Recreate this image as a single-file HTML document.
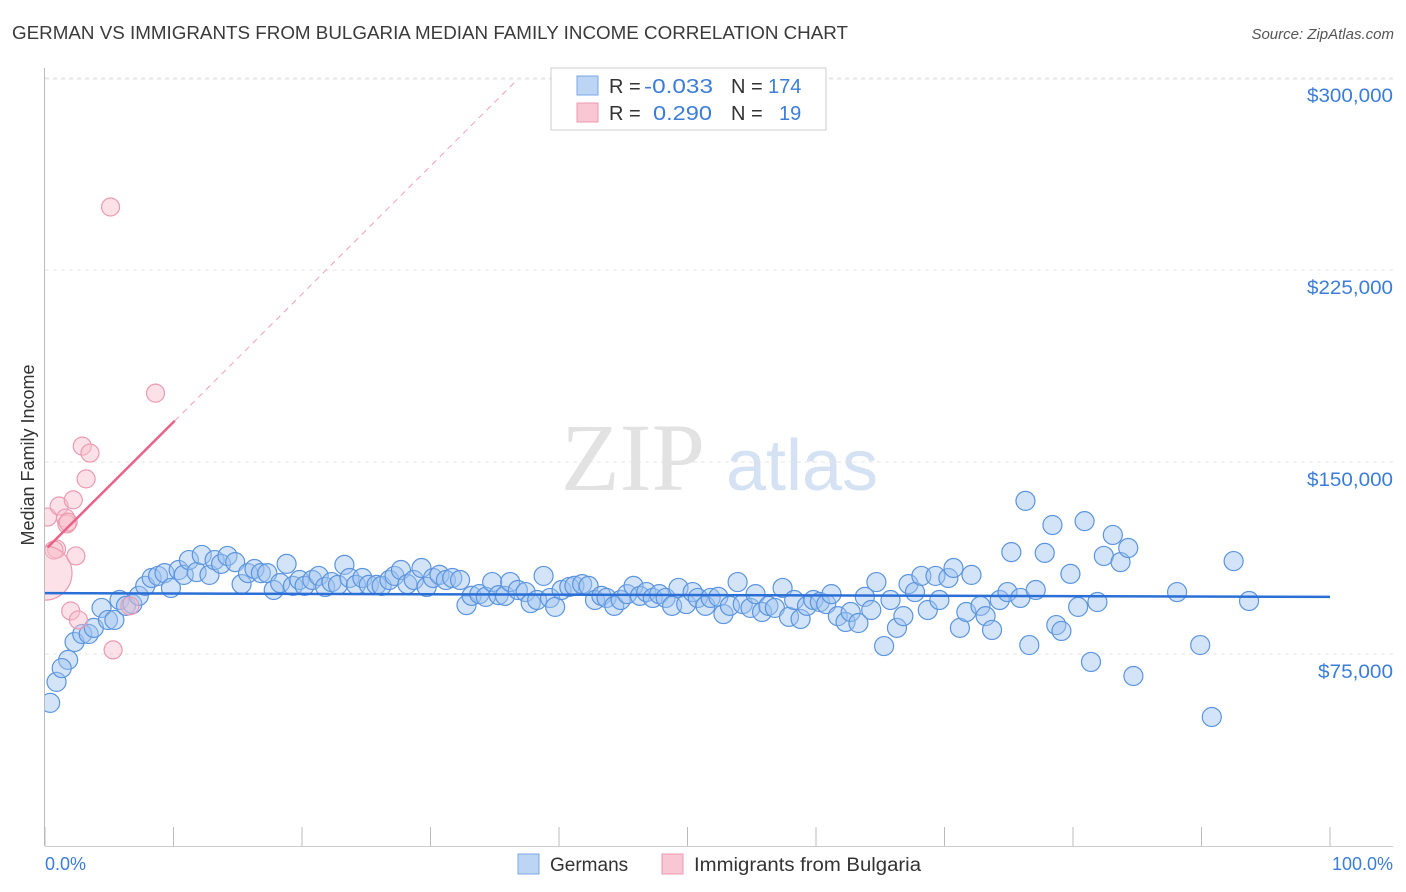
<!DOCTYPE html>
<html><head><meta charset="utf-8"><style>
body{margin:0;background:#fff;font-family:"Liberation Sans",sans-serif;}
svg{display:block}
</style></head><body>
<svg id="chart" width="1406" height="892" viewBox="0 0 1406 892" xmlns="http://www.w3.org/2000/svg">
<defs><clipPath id="plotclip"><rect x="45" y="60" width="1360" height="790"/></clipPath></defs>
<text x="12" y="39" font-size="18" fill="#3a3a3a" textLength="836" lengthAdjust="spacingAndGlyphs">GERMAN VS IMMIGRANTS FROM BULGARIA MEDIAN FAMILY INCOME CORRELATION CHART</text>
<text x="1394" y="39" font-size="15" fill="#555" font-style="italic" text-anchor="end">Source: ZipAtlas.com</text>
<g>
<text x="633" y="490" font-size="96" font-family="Liberation Serif,serif" fill="#e2e2e2" text-anchor="middle">ZIP</text>
<text x="802" y="490" font-size="72" fill="#d4e2f4" text-anchor="middle">atlas</text>
</g>
<g id="grid"></g>
<g id="axes"></g>
<g id="marks" clip-path="url(#plotclip)"></g>
<text transform="translate(34,455) rotate(-90)" font-size="18" fill="#333" text-anchor="middle">Median Family Income</text>
<text x="45" y="870" font-size="18" fill="#3b7dd8">0.0%</text>
<text x="1393" y="870" font-size="18" fill="#3b7dd8" text-anchor="end">100.0%</text>
<g>
<rect x="551" y="68" width="275" height="62" fill="#fff" stroke="#ccc"/>
<rect x="577" y="76" width="21" height="19" fill="#bcd5f5" stroke="#7aa7e3"/>
<rect x="577" y="103" width="21" height="19" fill="#f9c6d3" stroke="#ec9ab0"/>
<text x="609" y="93" font-size="20" fill="#333">R =</text>
<text x="644" y="93" font-size="20" fill="#3b7dd8" textLength="69" lengthAdjust="spacingAndGlyphs">-0.033</text>
<text x="731" y="93" font-size="20" fill="#333">N =</text>
<text x="768" y="93" font-size="20" fill="#3b7dd8">174</text>
<text x="609" y="120" font-size="20" fill="#333">R =</text>
<text x="653" y="120" font-size="20" fill="#3b7dd8" textLength="59" lengthAdjust="spacingAndGlyphs">0.290</text>
<text x="731" y="120" font-size="20" fill="#333">N =</text>
<text x="779" y="120" font-size="20" fill="#3b7dd8">19</text>
</g>
<g>
<rect x="518" y="854" width="21" height="20" fill="#bcd5f5" stroke="#7aa7e3"/>
<text x="550" y="871" font-size="19" fill="#333">Germans</text>
<rect x="662" y="854" width="21" height="20" fill="#f9c6d3" stroke="#ec9ab0"/>
<text x="694" y="871" font-size="19" fill="#333" textLength="227" lengthAdjust="spacingAndGlyphs">Immigrants from Bulgaria</text>
</g>
</svg>
<script>
const yTicks=[75000,150000,225000,300000];
const yTickLabels=["$75,000","$150,000","$225,000","$300,000"];
const xTicks=[0,10,20,30,40,50,60,70,80,90,100];
const blueX=[0.4,0.9,1.8,1.3,2.3,2.9,3.4,3.8,4.4,4.9,5.4,5.8,6.3,6.8,7.3,7.8,8.3,8.8,9.3,9.8,10.4,10.8,11.2,11.8,12.2,12.8,13.2,13.7,14.2,14.8,15.3,15.8,16.3,16.8,17.3,17.8,18.3,18.8,19.3,19.8,20.2,20.8,21.3,21.8,22.3,22.8,23.3,23.7,24.2,24.7,25.2,25.8,26.2,26.8,27.2,27.7,28.2,28.7,29.3,29.7,30.2,30.7,31.2,31.7,32.3,32.8,33.2,33.8,34.3,34.8,35.3,35.8,36.2,36.8,37.4,37.8,38.3,38.8,39.3,39.7,40.2,40.8,41.2,41.8,42.3,42.8,43.3,43.7,44.3,44.8,45.3,45.8,46.3,46.8,47.3,47.8,48.3,48.8,49.3,49.9,50.4,50.8,51.4,51.8,52.4,52.8,53.3,53.9,54.3,54.9,55.3,55.8,56.3,56.8,57.4,57.9,58.3,58.8,59.3,59.8,60.3,60.8,61.2,61.7,62.3,62.7,63.3,63.8,64.3,64.7,65.3,65.8,66.3,66.8,67.2,67.7,68.2,68.7,69.3,69.6,70.3,70.7,71.2,71.7,72.1,72.8,73.2,73.7,74.3,74.9,75.2,75.9,76.3,76.6,77.1,77.8,78.4,78.7,79.1,79.8,80.4,80.9,81.4,81.9,82.4,83.1,83.7,84.3,84.7,88.1,89.9,90.8,92.5,93.7];
const blueY=[55.9,64.1,72.7,69.5,79.7,82.8,82.8,85.2,93.0,88.3,88.3,96.1,93.8,94.5,97.7,101.6,104.7,105.5,106.6,100.8,107.8,105.9,111.7,107.0,113.7,105.9,111.7,110.2,113.3,110.9,102.3,106.6,108.2,106.6,106.6,100.0,102.7,110.2,101.6,103.9,101.6,103.9,105.5,101.2,103.1,102.0,109.8,104.7,102.0,104.7,102.0,102.0,101.6,103.9,105.5,107.8,102.3,103.9,108.6,101.2,104.7,105.9,103.9,104.7,103.9,94.1,97.7,98.4,97.3,103.1,98.0,97.7,103.1,100.0,99.2,94.9,96.1,105.5,96.9,93.4,100.0,101.2,101.6,102.3,101.6,96.1,97.7,96.9,93.8,96.1,98.4,101.6,97.7,99.2,96.9,98.4,96.9,93.8,100.8,94.5,99.2,96.9,93.8,96.9,97.3,90.6,93.8,103.1,94.5,93.0,98.4,91.4,93.8,93.0,100.8,89.5,96.1,88.7,93.8,96.1,95.3,94.5,98.4,89.8,87.5,91.4,87.1,97.3,92.2,103.1,78.1,96.1,85.2,89.8,102.3,99.2,105.5,92.2,105.5,96.1,104.7,108.6,85.2,91.4,105.9,93.8,89.8,84.4,96.1,99.2,114.8,96.9,134.8,78.5,100.0,114.5,125.4,86.3,84.0,106.3,93.4,126.9,71.9,95.3,113.3,121.5,110.9,116.4,66.4,99.2,78.5,50.4,111.3,95.7];
const pinkX=[5.1,8.6,2.9,3.5,3.2,0.2,1.1,2.2,1.6,1.7,0.9,0.7,2.4,2.0,2.6,6.6,5.3,0.0,1.8];
const pinkY=[249.6,176.9,156.2,153.5,143.4,128.5,132.8,135.2,128.1,125.8,116.0,115.6,113.3,91.8,88.3,93.8,76.6,106.6,126.5];
const blueTrend=[98.8,97.3];
const pinkTrend=[115.6,5.0];
const x0=45,x1=1330,yBase=846,pxPer1k=192/75;
const sx=v=>x0+(x1-x0)*v/100;
const sy=v=>yBase-v*pxPer1k/1000;
const NS="http://www.w3.org/2000/svg";
function mk(tag,attrs,parent){const e=document.createElementNS(NS,tag);for(const k in attrs)e.setAttribute(k,attrs[k]);parent.appendChild(e);return e;}
const grid=document.getElementById('grid'),axes=document.getElementById('axes'),marks=document.getElementById('marks');
yTicks.forEach((t,i)=>{
 const g=mk('line',{x1:45,x2:1393,y1:sy(t),y2:sy(t),stroke:'#e4e4e4','stroke-width':1,'stroke-dasharray':'4,4'},grid);
 
 
 const l=mk('text',{x:1393,y:sy(t)+24,'font-size':19,fill:'#3b7dd8','text-anchor':'end',textLength:(yTickLabels[i].length>7?86:75),lengthAdjust:'spacingAndGlyphs'},axes);
 l.textContent=yTickLabels[i];
 
 
});
const topG=mk('line',{x1:45,x2:1393,y1:79,y2:79,stroke:'#e4e4e4','stroke-dasharray':'4,4'},grid);


const ya=mk('line',{x1:44.5,x2:44.5,y1:68,y2:846,stroke:'#bbb'},axes);


const xa=mk('line',{x1:45,x2:1393,y1:846.5,y2:846.5,stroke:'#ccc'},axes);


xTicks.forEach(t=>{
 const k=mk('line',{x1:sx(t),x2:sx(t),y1:827,y2:846,stroke:'#bbb'},axes);
 
 
});
blueX.forEach((x,i)=>{
 const c=mk('circle',{cx:sx(x),cy:sy(blueY[i]*1000),r:9.5,fill:'rgba(160,196,240,0.45)',stroke:'#5b95df','stroke-width':1.2},marks);
 
 
});
pinkX.forEach((x,i)=>{
 const big=(i===17);
 const c=mk('circle',{cx:sx(x),cy:sy(pinkY[i]*1000),r:big?27:9,fill:'rgba(248,190,205,0.45)',stroke:'#ec9ab0','stroke-width':1.2},marks);
 
 
});
const bt=mk('line',{x1:sx(0),x2:sx(100),y1:sy(blueTrend[0]*1000),y2:sy(blueTrend[1]*1000),stroke:'#2a6fd6','stroke-width':2.5},marks);


const pf=x=>sy((pinkTrend[0]+pinkTrend[1]*x)*1000);
const pd=mk('line',{x1:sx(10.1),x2:sx(36.6),y1:pf(10.1),y2:pf(36.6),stroke:'#f0a0b5','stroke-width':1,'stroke-dasharray':'6,5'},marks);


const ps=mk('line',{x1:sx(0.2),x2:sx(10.1),y1:pf(0.2),y2:pf(10.1),stroke:'#e8628a','stroke-width':2.5},marks);


</script>
</body></html>
